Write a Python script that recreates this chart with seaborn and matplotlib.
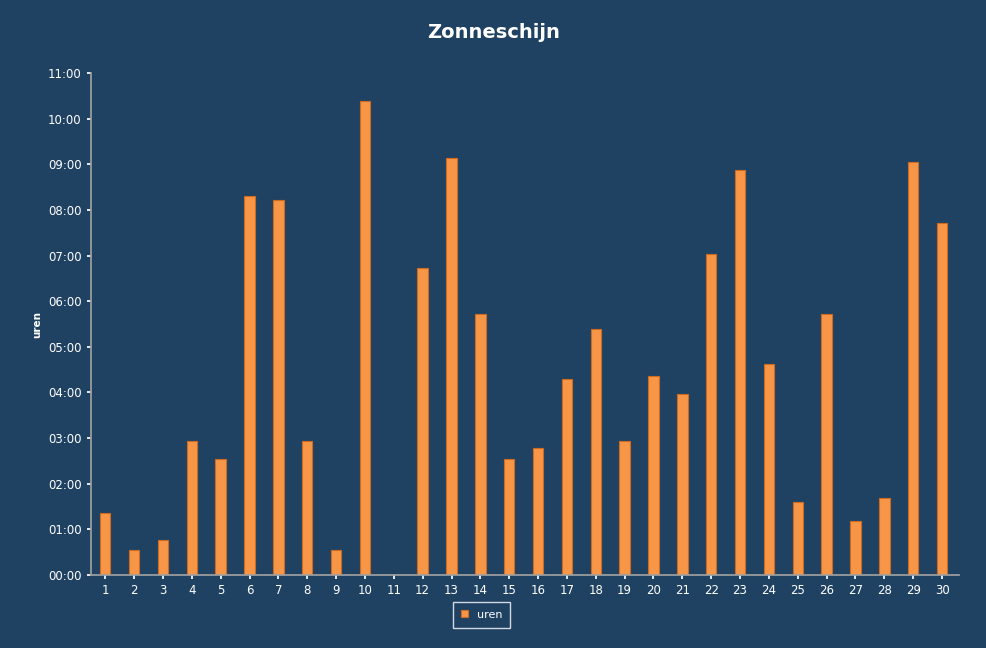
import matplotlib
matplotlib.use("Agg")
import matplotlib.pyplot as plt
import seaborn as sns
import pandas as pd
from matplotlib.ticker import FuncFormatter, MultipleLocator

days = list(range(1, 31))
hours = [1.36, 0.55, 0.77, 2.94, 2.53, 8.31, 8.22, 2.94, 0.55, 10.4,
         0.0, 6.73, 9.14, 5.71, 2.53, 2.77, 4.29, 5.38, 2.94, 4.35,
         3.96, 7.03, 8.88, 4.62, 1.60, 5.71, 1.19, 1.69, 9.05, 7.71]
df = pd.DataFrame({"dag": [str(d) for d in days], "uren": hours})

bg = "#1f4263"
sns.set_theme(style="white")
plt.rcParams['font.family'] = ['DejaVu Sans']
fig = plt.figure(figsize=(9.87, 6.48), dpi=100, facecolor=bg)
ax = fig.add_axes([0.092, 0.113, 0.88, 0.774], facecolor=bg)
sns.barplot(data=df, x="dag", y="uren", color="#f79646", saturation=1, width=0.36,
            edgecolor="#d06a20", linewidth=0.8, ax=ax, label="uren")
ax.set_ylim(0, 11)
ax.set_xlim(-0.5, 29.6)
ax.yaxis.set_major_locator(MultipleLocator(1))
ax.yaxis.set_major_formatter(FuncFormatter(lambda v, p: f"{int(round(v)):02d}:00"))
ax.tick_params(colors="white", labelsize=8.5, length=3, left=True, bottom=True)
for s in ["top", "right"]:
    ax.spines[s].set_visible(False)
for s in ["left", "bottom"]:
    ax.spines[s].set_color("#a0a0a0")
ax.set_xlabel("")
ax.set_ylabel("uren", color="white", fontsize=7.5, fontweight="bold")
fig.suptitle("Zonneschijn", color="white", fontsize=14, fontweight="bold", y=0.965)
leg = ax.legend(loc="upper center", bbox_to_anchor=(0.45, -0.05), frameon=True,
                fontsize=8, handlelength=0.6, handleheight=0.6)
leg.get_frame().set_facecolor(bg)
leg.get_frame().set_edgecolor("white")
leg.get_frame().set_boxstyle("square")
for t in leg.get_texts():
    t.set_color("white")
fig.savefig("out.png", dpi=100, facecolor=bg)
